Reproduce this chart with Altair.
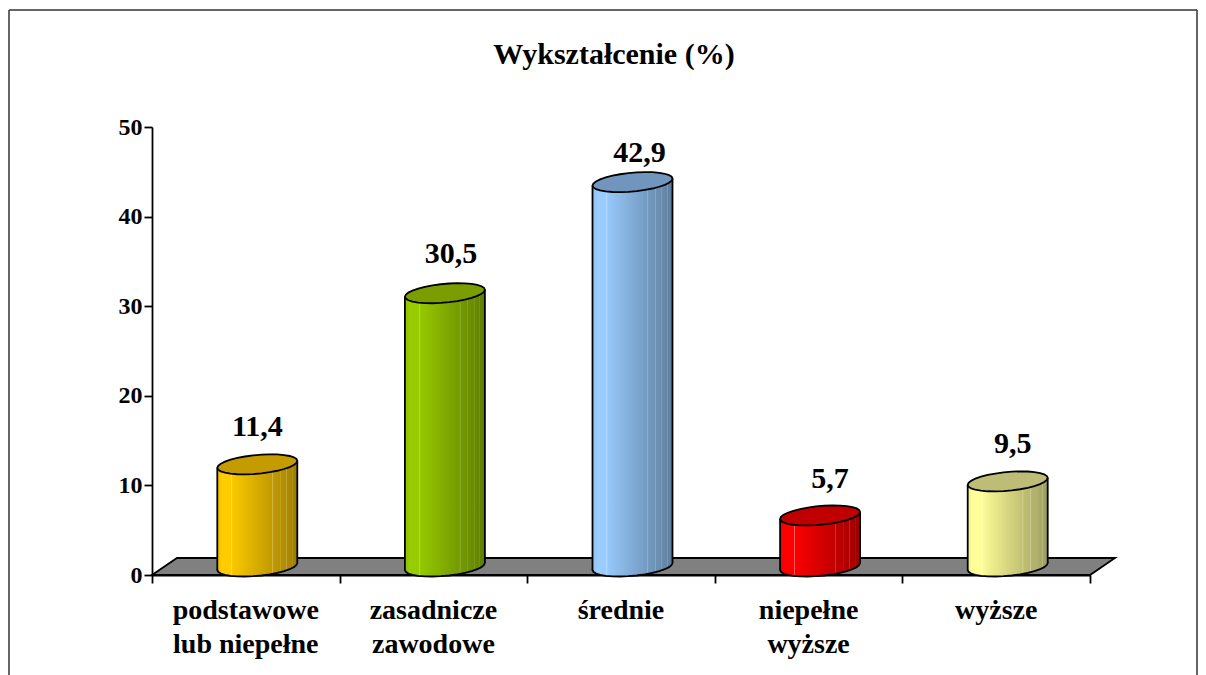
import math
import altair as alt
import pandas as pd

TITLE = "Wykształcenie (%)"
categories = ["podstawowe\nlub niepełne", "zasadnicze\nzawodowe", "średnie", "niepełne\nwyższe", "wyższe"]
values = [11.4, 30.5, 42.9, 5.7, 9.5]
value_labels = ["11,4", "30,5", "42,9", "5,7", "9,5"]
front_colors = ["#FFCC00", "#99CC00", "#99CCFF", "#FF0000", "#FFFF99"]
top_colors = ["#C49B00", "#7A9E00", "#7096BD", "#C00000", "#BDBD78"]
label_dx = [0, 6, 7, 10, 5]
label_dy = [-37, -39, -29, -36, -37]

WIDTH, HEIGHT = 938, 448
UNIT_X = WIDTH / 5
UNIT_Y = HEIGHT / 50
CYL_R = 40
CYL_DX = 11.5 / UNIT_X
BASE = 8.5 / UNIT_Y
TILT = 3.5 / UNIT_Y
FONT = "Liberation Serif"
LINE = 1.8

x_scale = alt.Scale(domain=[0, 5], range=[0, WIDTH], nice=False, zero=False)
y_scale = alt.Scale(domain=[0, 50], range=[HEIGHT, 0], nice=False, zero=False)

# sheared ellipse, in symbol units (1 unit = CYL_R px at size (2*CYL_R)^2)
pts = []
for k in range(30):
    t = 2 * math.pi * k / 30
    pts.append((math.cos(t), (9.4 * math.sin(t) - 3.5 * math.cos(t)) / CYL_R))
ELLIPSE = "M" + " L".join(f"{a:.4f},{b:.4f}" for a, b in pts) + " Z"
floor_unit = 50
FLOOR = "M{:.3f},{:.3f} L{:.3f},{:.3f} L{:.3f},{:.3f} L{:.3f},{:.3f} Z".format(
    -481.5 / floor_unit, 8.5 / floor_unit, -456.5 / floor_unit, -8.5 / floor_unit,
    481.5 / floor_unit, -8.5 / floor_unit, 456.5 / floor_unit, 8.5 / floor_unit)


def mix(hex_color, factor, pale=0.0):
    rgb = [int(hex_color[i:i + 2], 16) for i in (1, 3, 5)]
    rgb = [c * factor for c in rgb]
    rgb = [c + (255 - c) * pale for c in rgb]
    return "#" + "".join(f"{int(round(min(c, 255))):02x}" for c in rgb)


def gradient(color):
    shades = [(0, .93, 0), (.06, 1, 0), (.17, 1, 0), (.18, 1, .35), (.19, .98, 0),
              (.5, .84, 0), (.68, .76, 0), (.69, .76, .25), (.70, .75, 0), (.78, .72, 0),
              (.785, .72, .25), (.795, .71, 0), (.86, .69, 0), (.865, .69, .2), (.875, .68, 0),
              (.93, .65, 0), (.935, .65, .2), (.945, .64, 0), (.98, .62, 0), (1, .62, 0)]
    return alt.LinearGradient(
        gradient="linear", x1=0, x2=1, y1=0, y2=0,
        stops=[alt.GradientStop(offset=o, color=mix(color, f, p)) for o, f, p in shades])


layers = []

# floor and axes
floor_df = pd.DataFrame({"x": [2.5 + 12.5 / UNIT_X], "y": [BASE]})
layers.append(
    alt.Chart(floor_df).mark_point(
        shape=FLOOR, size=(2 * floor_unit) ** 2, filled=True, fill="#808080", stroke="#000000",
        strokeWidth=LINE, opacity=1
    ).encode(
        x=alt.X("x:Q", scale=x_scale, title=None, axis=alt.Axis(
            values=[0, 1, 2, 3, 4, 5], labels=False, tickSize=8, tickColor="#000000", tickWidth=LINE,
            domainColor="#000000", domainWidth=LINE, grid=False)),
        y=alt.Y("y:Q", scale=y_scale, title=None, axis=alt.Axis(
            values=[0, 10, 20, 30, 40, 50], tickSize=8, tickColor="#000000", tickWidth=LINE,
            domainColor="#000000", domainWidth=LINE, grid=False, labelFont=FONT, labelFontSize=24,
            labelFontWeight="bold", labelColor="#000000", labelPadding=2)),
    )
)

# cylinders
for i, (val, lab, col, top, ldx, ldy) in enumerate(
        zip(values, value_labels, front_colors, top_colors, label_dx, label_dy)):
    cx = i + 0.5 + CYL_DX
    half = CYL_R / UNIT_X
    grad = gradient(col)
    point_df = pd.DataFrame({"x": [cx], "base": [BASE], "top": [val + BASE], "label": [lab]})
    body_df = pd.DataFrame({
        "x": [cx - half, cx + half],
        "y": [val + BASE - TILT, val + BASE + TILT],
        "y2": [BASE - TILT, BASE + TILT],
    })
    enc_x = alt.X("x:Q", scale=x_scale, axis=None)
    layers.append(alt.Chart(point_df).mark_point(
        shape=ELLIPSE, size=(2 * CYL_R) ** 2, filled=True, fill=grad, stroke="#000000", strokeWidth=LINE, opacity=1
    ).encode(x=enc_x, y=alt.Y("base:Q", scale=y_scale, axis=None)))
    layers.append(alt.Chart(body_df).mark_area(fill=grad, opacity=1).encode(
        x=enc_x, y=alt.Y("y:Q", scale=y_scale, axis=None), y2="y2:Q"))
    layers.append(alt.Chart(body_df).mark_rule(color="#000000", strokeWidth=LINE).encode(
        x=enc_x, y=alt.Y("y:Q", scale=y_scale, axis=None), y2="y2:Q"))
    layers.append(alt.Chart(point_df).mark_point(
        shape=ELLIPSE, size=(2 * CYL_R) ** 2, filled=True, fill=top, stroke="#000000", strokeWidth=LINE, opacity=1
    ).encode(x=enc_x, y=alt.Y("top:Q", scale=y_scale, axis=None)))
    layers.append(alt.Chart(point_df).mark_text(
        font=FONT, fontSize=30, fontWeight="bold", color="#000000", dx=ldx, dy=ldy, baseline="middle"
    ).encode(x=enc_x, y=alt.Y("top:Q", scale=y_scale, axis=None), text="label:N"))

# category labels
cat_df = pd.DataFrame({"x": [i + 0.5 for i in range(5)], "y": [0] * 5, "c": categories})
layers.append(alt.Chart(cat_df).mark_text(
    font=FONT, fontSize=28, fontWeight="bold", color="#000000", baseline="top", lineBreak="\n",
    lineHeight=34, dy=22
).encode(
    x=alt.X("x:Q", scale=x_scale, axis=None), y=alt.Y("y:Q", scale=y_scale, axis=None), text="c:N"))

# outer frame (open at the page's lower edge)
frame = {"color": "#333333", "strokeWidth": 1.5}
layers.append(alt.Chart(cat_df.head(1)).mark_rule(**frame).encode(
    x=alt.value(-143), x2=alt.value(1045), y=alt.value(-117)))
layers.append(alt.Chart(cat_df.head(1)).mark_rule(**frame).encode(
    x=alt.value(-143), y=alt.value(-117), y2=alt.value(560)))
layers.append(alt.Chart(cat_df.head(1)).mark_rule(**frame).encode(
    x=alt.value(1045), y=alt.value(-117), y2=alt.value(560)))

chart = alt.layer(*layers).resolve_axis(x="independent", y="independent").properties(
    width=WIDTH, height=HEIGHT,
    title=alt.TitleParams(TITLE, font=FONT, fontSize=30, fontWeight="bold", color="#000000",
                          anchor="middle", offset=-61, dx=-7),
    autosize=alt.AutoSizeParams(type="none"),
    padding={"left": 144, "top": 119, "right": 108, "bottom": 100},
    background="#ffffff",
).configure_view(stroke=None)

chart.save("out.html", embed_options={"renderer": "svg", "actions": False})
